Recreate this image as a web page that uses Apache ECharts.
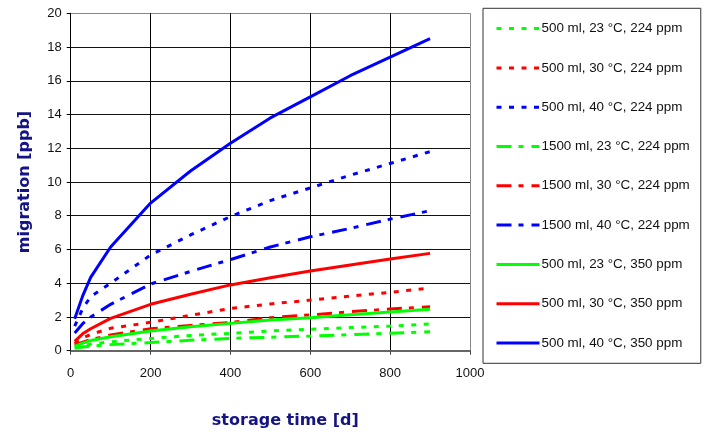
<!DOCTYPE html>
<html>
<head>
<meta charset="utf-8">
<script src="https://cdn.jsdelivr.net/npm/echarts@6/dist/echarts.min.js"></script>
<style>html,body{margin:0;padding:0;background:#fff}#c{width:707px;height:435px}</style>
</head>
<body>
<div id="c"></div>
<script>
var days = [10, 30, 50, 100, 200, 300, 400, 500, 600, 700, 800, 900];
var names = [
  "500 ml, 23 °C, 224 ppm",
  "500 ml, 30 °C, 224 ppm",
  "500 ml, 40 °C, 224 ppm",
  "1500 ml, 23 °C, 224 ppm",
  "1500 ml, 30 °C, 224 ppm",
  "1500 ml, 40 °C, 224 ppm",
  "500 ml, 23 °C, 350 ppm",
  "500 ml, 30 °C, 350 ppm",
  "500 ml, 40 °C, 350 ppm"
];
var s500_23_224  = [0.20, 0.30, 0.38, 0.53, 0.73, 0.90, 1.03, 1.17, 1.27, 1.37, 1.46, 1.58];
var s500_30_224  = [0.42, 0.75, 0.97, 1.33, 1.68, 2.10, 2.50, 2.77, 3.00, 3.24, 3.46, 3.72];
var s500_40_224  = [1.45, 2.50, 3.20, 4.00, 5.67, 6.86, 7.95, 8.90, 9.65, 10.40, 11.10, 11.80];
var s1500_23_224 = [0.15, 0.22, 0.27, 0.36, 0.48, 0.62, 0.73, 0.80, 0.87, 0.95, 1.03, 1.13];
var s1500_30_224 = [0.33, 0.50, 0.65, 0.93, 1.30, 1.50, 1.67, 1.96, 2.12, 2.31, 2.47, 2.61];
var s1500_40_224 = [1.05, 1.60, 2.00, 2.75, 3.95, 4.70, 5.40, 6.15, 6.75, 7.25, 7.80, 8.30];
var s500_23_350  = [0.25, 0.45, 0.60, 0.83, 1.17, 1.42, 1.62, 1.82, 1.96, 2.13, 2.29, 2.45];
var s500_30_350  = [0.55, 1.00, 1.30, 1.92, 2.75, 3.35, 3.90, 4.33, 4.72, 5.08, 5.43, 5.77];
var s500_40_350  = [1.90, 3.25, 4.35, 6.15, 8.75, 10.65, 12.30, 13.80, 15.05, 16.30, 17.40, 18.50];

var seriesValues = [s500_23_224, s500_30_224, s500_40_224, s1500_23_224, s1500_30_224, s1500_40_224, s500_23_350, s500_30_350, s500_40_350];
var colors = ["#00ff00", "#ff0000", "#0000ff", "#00ff00", "#ff0000", "#0000ff", "#00ff00", "#ff0000", "#0000ff"];
var dotted = [5, 7.5];
var dashDot = [15, 7, 5, 8];
var styles = [dotted, dotted, dotted, dashDot, dashDot, dashDot, "solid", "solid", "solid"];

var series = seriesValues.map(function (vals, i) {
  return {
    name: names[i],
    type: "line",
    symbol: "none",
    smooth: false,
    data: days.map(function (d, j) { return [d, vals[j]]; }),
    lineStyle: { color: colors[i], width: 3, type: styles[i], cap: "butt" },
    itemStyle: { color: colors[i] },
    z: 2 + i
  };
});

var yGridColors = ["#000","#111","#111","#111","#111","#111","#111","#111","#111","#111","#888"];
var xGridColors = ["#000","#000","#000","#000","#000","#888"];

var chart = echarts.init(document.getElementById("c"), null, { renderer: "canvas" });
chart.setOption({
  animation: false,
  backgroundColor: "#fff",
  grid: { left: 70.7, right: 237, top: 13.3, bottom: 84.3, containLabel: false },
  xAxis: {
    type: "value", min: 0, max: 1000, interval: 200,
    name: "storage time [d]", nameLocation: "middle", nameGap: 62,
    nameTextStyle: { fontFamily: "DejaVu Sans", fontWeight: "bold", fontSize: 16, color: "#141485", padding: [0, 0, 0, 30] },
    axisLine: { show: true, onZero: false, lineStyle: { color: "#666", width: 2 } },
    axisTick: { show: true, length: 4, inside: false, lineStyle: { color: "#444" } },
    axisLabel: { margin: 16, fontFamily: "Liberation Sans", fontSize: 13, color: "#111", formatter: function (v) { return String(v); } },
    splitLine: { show: true, lineStyle: { color: xGridColors, width: 1 } }
  },
  yAxis: {
    type: "value", min: 0, max: 20, interval: 2,
    name: "migration [ppb]", nameLocation: "middle", nameGap: 38,
    nameTextStyle: { fontFamily: "DejaVu Sans", fontWeight: "bold", fontSize: 16, color: "#141485" },
    axisLine: { show: true, lineStyle: { color: "#000", width: 1 } },
    axisTick: { show: true, length: 4, lineStyle: { color: "#000" } },
    axisLabel: { margin: 9, fontFamily: "Liberation Sans", fontSize: 13, color: "#111" },
    splitLine: { show: true, lineStyle: { color: yGridColors, width: 1 } }
  },
  legend: {
    orient: "vertical", left: 483, top: 8.3,
    padding: [12.3, 11, 12.3, 12],
    itemWidth: 43, itemHeight: 14, itemGap: 23.3,
    borderColor: "#333", borderWidth: 1,
    backgroundColor: "#fff",
    itemStyle: { opacity: 0, borderWidth: 0 },
    lineStyle: { width: 3 },
    textStyle: { fontFamily: "Liberation Sans", fontSize: 13.4, color: "#111", lineHeight: 16, padding: [0, 0, 0, -3] },
    data: names
  },
  series: series
});
</script>
</body>
</html>
